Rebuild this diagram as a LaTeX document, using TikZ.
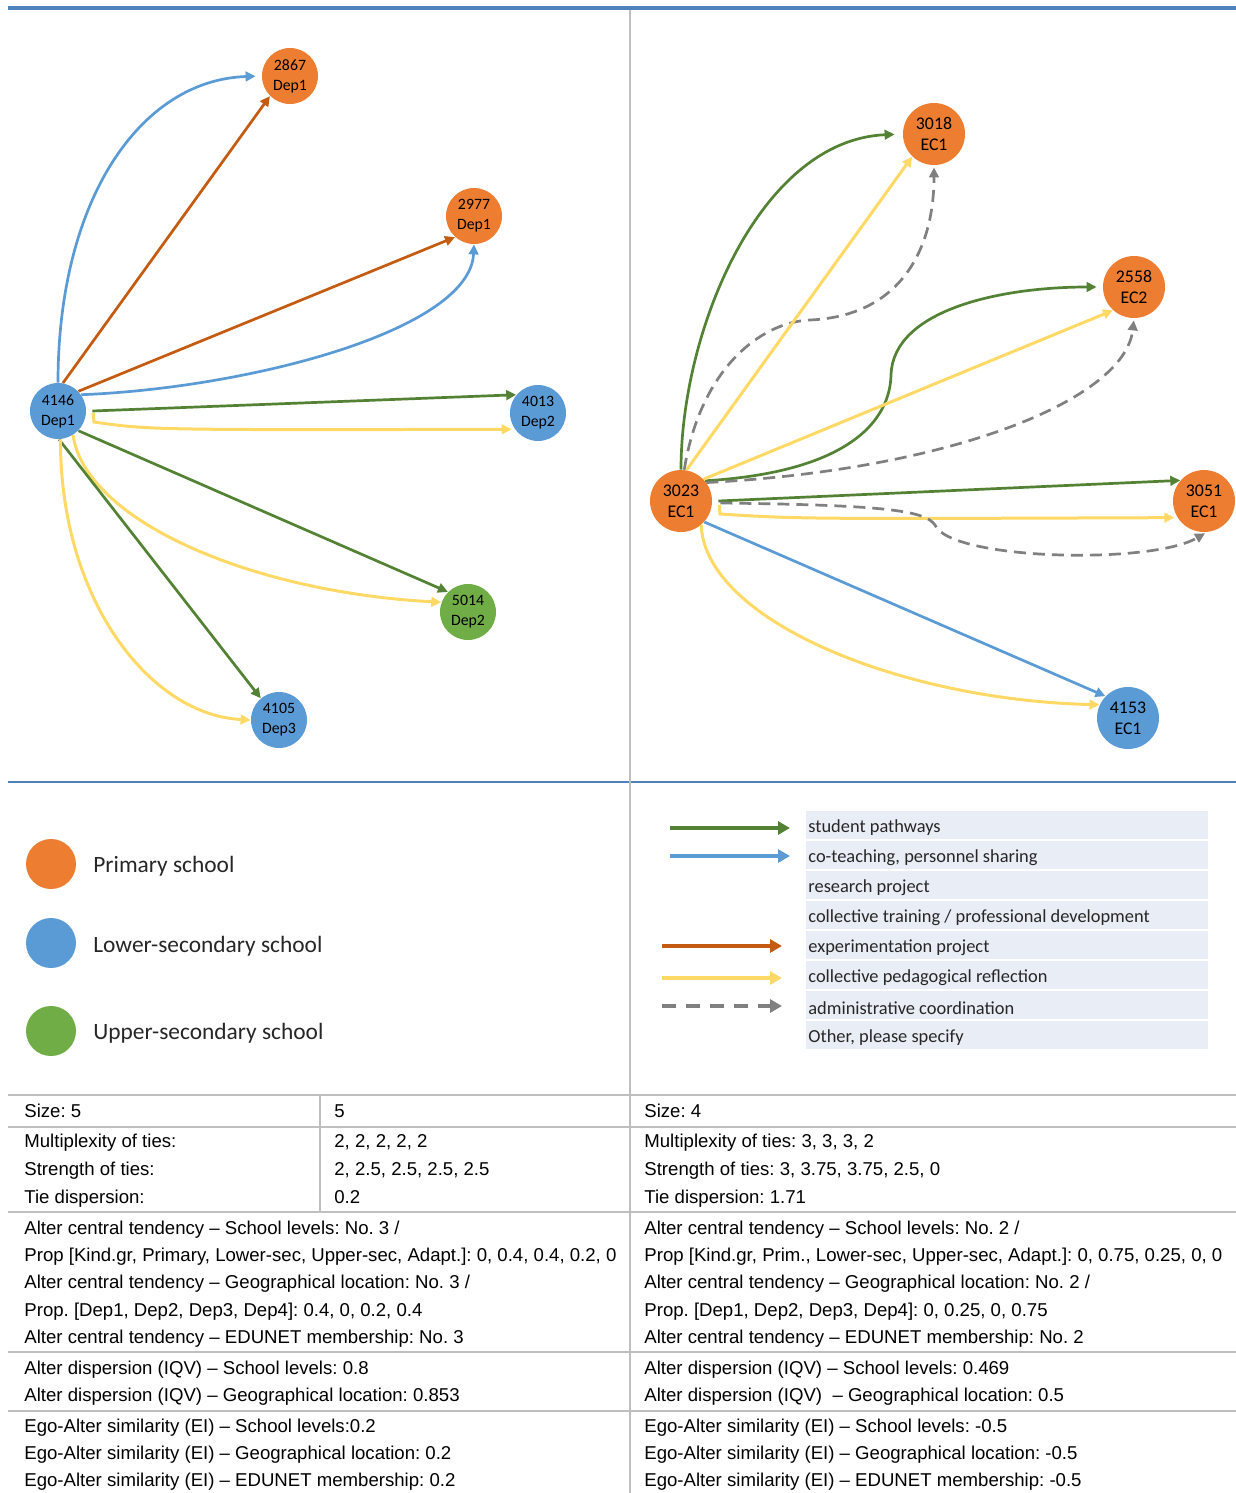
\documentclass[tikz,border=0pt]{standalone}
\usepackage{fontspec}
\setmainfont{Liberation Sans}
\newfontfamily\calfont{Carlito}
\usetikzlibrary{arrows.meta}
\frenchspacing
\definecolor{porange}{HTML}{ED7D31}
\definecolor{pblue}{HTML}{5B9BD5}
\definecolor{pgreen}{HTML}{70AD47}
\definecolor{agreen}{HTML}{548235}
\definecolor{aorange}{HTML}{C55A11}
\definecolor{ayellow}{HTML}{FFD966}
\definecolor{agrey}{HTML}{808080}
\definecolor{topblue}{HTML}{4F81BD}
\definecolor{rulegrey}{HTML}{BFBFBF}
\definecolor{rowfill}{HTML}{E9EDF5}
\tikzset{
  lnode/.style={circle, minimum size=28pt, inner sep=0pt, align=center, text=black,
     font=\calfont\fontsize{7.9}{10}\selectfont},
  rnode/.style={circle, minimum size=31pt, inner sep=0pt, align=center, text=black,
     font=\calfont\fontsize{8.9}{10.5}\selectfont},
  conn/.style={line width=1.35pt, -{Triangle[length=5pt,width=4.8pt]}},
  gconn/.style={conn, draw=agreen},
  bconn/.style={conn, draw=pblue},
  oconn/.style={conn, draw=aorange},
  yconn/.style={conn, draw=ayellow, line width=1.5pt},
  dconn/.style={conn, draw=agrey, dash pattern=on 6pt off 3.5pt},
  legarrow/.style={line width=2pt, -{Triangle[length=6pt,width=6.5pt]}},
  legtext/.style={anchor=west, font=\calfont\fontsize{9.2}{11}\selectfont, text=black!85, inner sep=0pt},
  schooltext/.style={anchor=west, font=\calfont\fontsize{11.7}{14}\selectfont, text=black!85, inner sep=0pt},
  tabtext/.style={anchor=base west, font=\fontsize{9.3}{11}\selectfont, text=black, inner sep=0pt},
  rule/.style={draw=rulegrey, line width=0.8pt},
}
\begin{document}
\begin{tikzpicture}[x=0.5pt,y=-0.5pt]
\useasboundingbox (0,0) rectangle (1236,1493);
% frame lines
\draw[topblue, line width=2pt] (8,8) -- (1236,8);
\draw[topblue, line width=0.6pt] (8,782) -- (1236,782);
\draw[rule] (630,10) -- (630,1493);
% ---------------- left graph ----------------
\node[lnode, fill=porange] (L2867) at (290,76) {2867\\Dep1};
\node[lnode, fill=porange] (L2977) at (474,216) {2977\\Dep1};
\node[lnode, fill=pblue] (L4146) at (58,411) {4146\\Dep1};
\node[lnode, fill=pblue] (L4013) at (538,413) {4013\\Dep2};
\node[lnode, fill=pgreen] (L5014) at (468,612) {5014\\Dep2};
\node[lnode, fill=pblue] (L4105) at (279,720) {4105\\Dep3};

\draw[bconn, shorten >=3pt] (L4146.90) .. controls (58,200) and (140,80) .. (L2867.west);
\draw[oconn] (L4146.80) -- (L2867.225);
\draw[oconn] (L4146.44) -- (L2977.228);
\draw[bconn] (L4146.35) .. controls (250,388) and (470,330) .. (L2977.south);
\draw[gconn] ([xshift=3pt]L4146.east) -- (L4013.140);
\draw[yconn, shorten >=1.5pt] ([xshift=3.5pt,yshift=-1pt]L4146.east) -- ++(0.5,9) .. controls (150,430) .. (L4013.215);
\draw[gconn] (L4146.-44) -- (L5014.135);
\draw[yconn] (L4146.-58) .. controls (85,520) and (250,592) .. (L5014.160);
\draw[gconn] (L4146.-88) -- (L4105.130);
\draw[yconn] (L4146.-85) .. controls (60,600) and (150,715) .. (L4105.west);
% ---------------- right graph ----------------
\node[rnode, fill=porange] (R3018) at (934,134) {3018\\EC1};
\node[rnode, fill=porange] (R2558) at (1134,287) {2558\\EC2};
\node[rnode, fill=porange] (R3023) at (681,501) {3023\\EC1};
\node[rnode, fill=porange] (R3051) at (1204,501) {3051\\EC1};
\node[rnode, fill=pblue] (R4153) at (1128,718) {4153\\EC1};

\draw[gconn, shorten >=4pt] (R3023.north) .. controls (681,330) and (760,140) .. (R3018.west);
\draw[dconn, shorten >=1pt] (R3023.84) .. controls (700,370) and (760,322) .. (810,320)
   .. controls (900,316) and (934,250) .. (R3018.south);
\draw[yconn] (R3023.80) -- (R3018.226);
\draw[gconn, shorten >=3pt] (R3023.40) .. controls (850,472) and (890,420) .. (891,375)
   .. controls (893,310) and (1000,287) .. (R2558.west);
\draw[yconn] (R3023.44) -- (R2558.228);
\draw[dconn, shorten >=1pt] (R3023.36) .. controls (950,470) and (1125,400) .. (R2558.south);
\draw[gconn] ([xshift=3pt]R3023.east) -- (R3051.139);
\draw[yconn, shorten >=1.5pt] ([xshift=3.5pt,yshift=-2pt]R3023.east) -- ++(0.5,9) .. controls (800,519) .. (R3051.212);
\draw[dconn, shorten >=1pt] ([xshift=4pt,yshift=-1pt]R3023.east) .. controls (880,505) and (925,510) .. (935,525)
   .. controls (950,560) and (1150,565) .. (R3051.-85);
\draw[bconn] (R3023.-42) -- (R4153.136);
\draw[yconn] (R3023.-50) .. controls (705,620) and (900,700) .. (R4153.155);
% ---------------- school legend ----------------
\node[circle, minimum size=25pt, inner sep=0pt, fill=porange] (C1) at (51,864) {};
\node[circle, minimum size=25pt, inner sep=0pt, fill=pblue] (C2) at (51,943) {};
\node[circle, minimum size=25pt, inner sep=0pt, fill=pgreen] (C3) at (51,1031) {};
\node[schooltext] (T1) at (93,866) {Primary school};
\node[schooltext] (T2) at (93,946) {Lower-secondary school};
\node[schooltext] (T3) at (93,1033) {Upper-secondary school};
% ---------------- tie legend ----------------
\foreach \i in {0,...,7} {
  \fill[rowfill] (806,{811+30*\i}) rectangle (1208,{839+30*\i});
}
\node[legtext] (E1) at (808,828) {student pathways};
\node[legtext] (E2) at (808,858) {co-teaching, personnel sharing};
\node[legtext] (E3) at (808,888) {research project};
\node[legtext] (E4) at (808,918) {collective training / professional development};
\node[legtext] (E5) at (808,948) {experimentation project};
\node[legtext] (E6) at (808,978) {collective pedagogical reflection};
\node[legtext] (E7) at (808,1008) {administrative coordination};
\node[legtext] (E8) at (808,1038) {Other, please specify};
\coordinate (A1s) at (670,828); \coordinate (A1e) at (790,828);
\coordinate (A2s) at (670,856); \coordinate (A2e) at (790,856);
\coordinate (A5s) at (662,946); \coordinate (A5e) at (782,946);
\coordinate (A6s) at (662,978); \coordinate (A6e) at (782,978);
\coordinate (A7s) at (662,1006); \coordinate (A7e) at (782,1006);
\draw[legarrow, agreen] (A1s) -- (A1e);
\draw[legarrow, pblue] (A2s) -- (A2e);
\draw[legarrow, aorange] (A5s) -- (A5e);
\draw[legarrow, ayellow] (A6s) -- (A6e);
\draw[legarrow, agrey, dash pattern=on 7pt off 5pt] (A7s) -- (A7e);
% ---------------- table ----------------
\foreach \yy in {1095,1127,1212,1352,1411} {
  \draw[rule] (8,\yy) -- (1236,\yy);
}
\draw[rule] (320,1095) -- (320,1212);
\node[tabtext] at (24,1117) {Size: 5};
\node[tabtext] at (334,1117) {5};
\node[tabtext] at (24,1147) {Multiplexity of ties:};
\node[tabtext] at (24,1175) {Strength of ties:};
\node[tabtext] at (24,1203) {Tie dispersion:};
\node[tabtext] at (334,1147) {2, 2, 2, 2, 2};
\node[tabtext] at (334,1175) {2, 2.5, 2.5, 2.5, 2.5};
\node[tabtext] at (334,1203) {0.2};
\node[tabtext] at (24,1234) {Alter central tendency – School levels: No. 3 /};
\node[tabtext] at (24,1261) {Prop [Kind.gr, Primary, Lower-sec, Upper-sec, Adapt.]: 0, 0.4, 0.4, 0.2, 0};
\node[tabtext] at (24,1288) {Alter central tendency – Geographical location: No. 3 /};
\node[tabtext] at (24,1316) {Prop. [Dep1, Dep2, Dep3, Dep4]: 0.4, 0, 0.2, 0.4};
\node[tabtext] at (24,1343) {Alter central tendency – EDUNET membership: No. 3};
\node[tabtext] at (24,1374) {Alter dispersion (IQV) – School levels: 0.8};
\node[tabtext] at (24,1401) {Alter dispersion (IQV) – Geographical location: 0.853};
\node[tabtext] at (24,1432) {Ego-Alter similarity (EI) – School levels:0.2};
\node[tabtext] at (24,1459) {Ego-Alter similarity (EI) – Geographical location: 0.2};
\node[tabtext] at (24,1486) {Ego-Alter similarity (EI) – EDUNET membership: 0.2};
\node[tabtext] at (644,1117) {Size: 4};
\node[tabtext] at (644,1147) {Multiplexity of ties: 3, 3, 3, 2};
\node[tabtext] at (644,1175) {Strength of ties: 3, 3.75, 3.75, 2.5, 0};
\node[tabtext] at (644,1203) {Tie dispersion: 1.71};
\node[tabtext] at (644,1234) {Alter central tendency – School levels: No. 2 /};
\node[tabtext] at (644,1261) {Prop [Kind.gr, Prim., Lower-sec, Upper-sec, Adapt.]: 0, 0.75, 0.25, 0, 0};
\node[tabtext] at (644,1288) {Alter central tendency – Geographical location: No. 2 /};
\node[tabtext] at (644,1316) {Prop. [Dep1, Dep2, Dep3, Dep4]: 0, 0.25, 0, 0.75};
\node[tabtext] at (644,1343) {Alter central tendency – EDUNET membership: No. 2};
\node[tabtext] at (644,1374) {Alter dispersion (IQV) – School levels: 0.469};
\node[tabtext] at (644,1401) {Alter dispersion (IQV) \ – Geographical location: 0.5};
\node[tabtext] at (644,1432) {Ego-Alter similarity (EI) – School levels: -0.5};
\node[tabtext] at (644,1459) {Ego-Alter similarity (EI) – Geographical location: -0.5};
\node[tabtext] at (644,1486) {Ego-Alter similarity (EI) – EDUNET membership: -0.5};
\end{tikzpicture}
\end{document}
